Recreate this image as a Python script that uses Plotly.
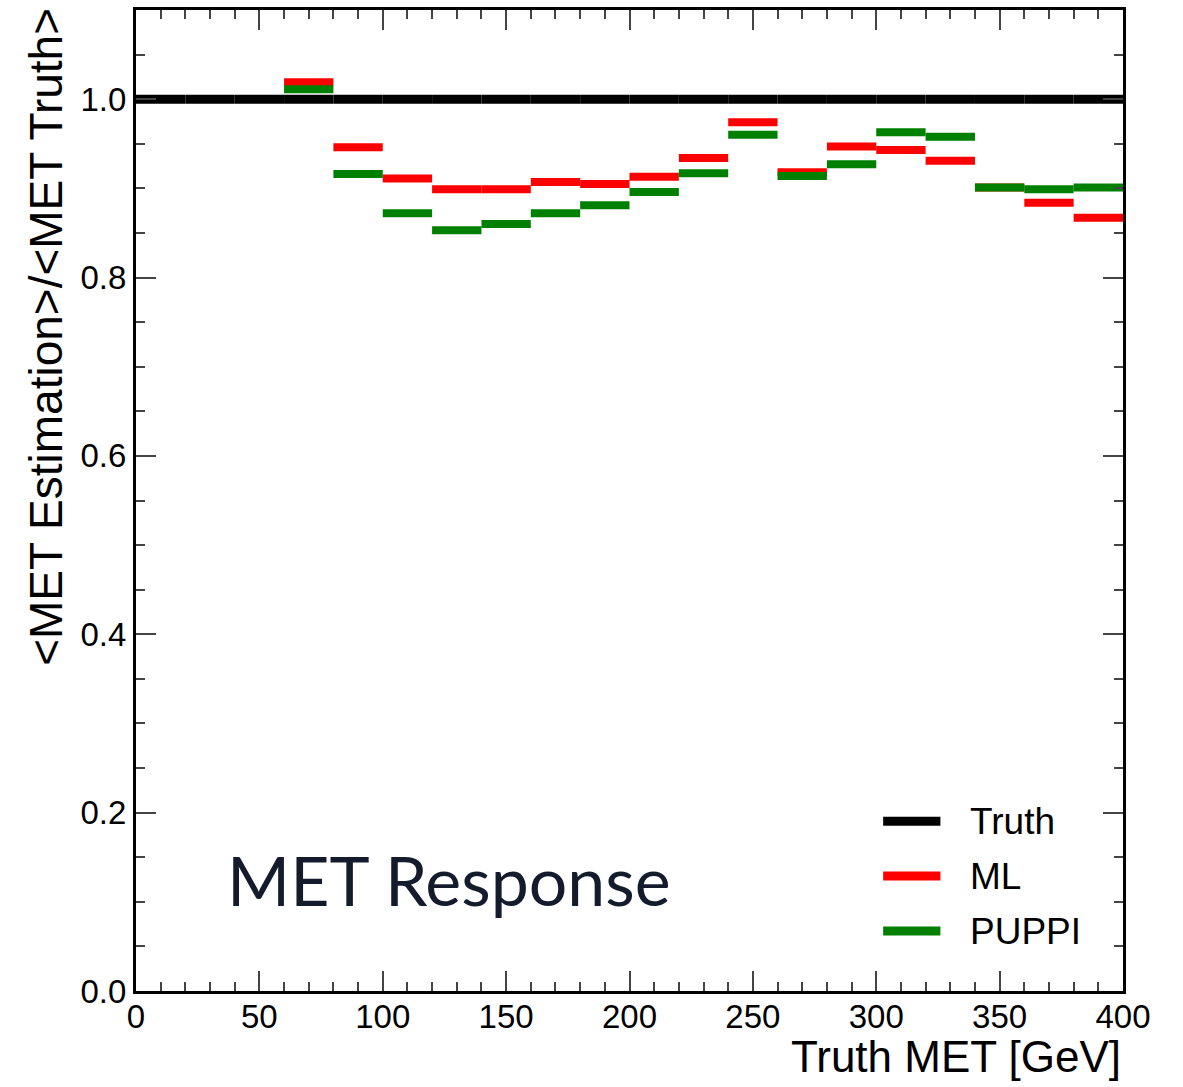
import plotly.graph_objects as go

# ---- data ----
bin_lo = [60, 80, 100, 120, 140, 160, 180, 200, 220, 240, 260, 280, 300, 320, 340, 360, 380]
bin_width = 20
ml = [1.019, 0.946, 0.911, 0.899, 0.899, 0.907, 0.905, 0.913, 0.934, 0.974, 0.918, 0.947, 0.943, 0.931, 0.901, 0.884, 0.867]
puppi = [1.011, 0.916, 0.872, 0.853, 0.860, 0.872, 0.881, 0.896, 0.917, 0.960, 0.914, 0.927, 0.963, 0.958, 0.901, 0.899, 0.901]
truth_lo = list(range(0, 400, 20))
truth = [1.0] * len(truth_lo)

x_ticks = [0, 50, 100, 150, 200, 250, 300, 350, 400]
y_ticks = [0.0, 0.2, 0.4, 0.6, 0.8, 1.0]
y_tick_text = ["0.0", "0.2", "0.4", "0.6", "0.8", "1.0"]


def steps(lo, vals, w):
    xs, ys = [], []
    for a, v in zip(lo, vals):
        xs += [a, a + w, None]
        ys += [v, v, None]
    return xs, ys


fig = go.Figure()
tx, ty = steps(truth_lo, truth, bin_width)
fig.add_trace(go.Scatter(x=tx, y=ty, mode="lines", name="Truth",
                         line=dict(color="black", width=9), showlegend=False))
mx, my = steps(bin_lo, ml, bin_width)
fig.add_trace(go.Scatter(x=mx, y=my, mode="lines", name="ML",
                         line=dict(color="#ff0000", width=8), showlegend=False))
px_, py_ = steps(bin_lo, puppi, bin_width)
fig.add_trace(go.Scatter(x=px_, y=py_, mode="lines", name="PUPPI",
                         line=dict(color="#008000", width=8), showlegend=False))

tickfont = dict(family="Liberation Sans, Arial, sans-serif", size=33, color="black")

fig.update_layout(
    width=1183, height=1087,
    margin=dict(l=136, r=60, t=7, b=96),
    plot_bgcolor="white", paper_bgcolor="white",
    showlegend=False,
)
fig.update_xaxes(
    range=[0, 400], tickvals=x_ticks, ticktext=[str(v) for v in x_ticks],
    ticks="inside", ticklen=20, tickwidth=2, tickcolor="#444",
    minor=dict(dtick=10, ticks="inside", ticklen=9, tickwidth=2, tickcolor="#444"),
    showline=True, linecolor="black", linewidth=3, mirror="allticks",
    showgrid=False, zeroline=False, tickfont=tickfont, ticklabelstandoff=-6,
)
fig.update_yaxes(
    range=[0, 1.1], tickvals=y_ticks, ticktext=y_tick_text,
    ticks="inside", ticklen=20, tickwidth=2, tickcolor="#444",
    minor=dict(dtick=0.05, ticks="inside", ticklen=9, tickwidth=2, tickcolor="#444"),
    showline=True, linecolor="black", linewidth=3, mirror="allticks",
    showgrid=False, zeroline=False, tickfont=tickfont,
)

annotations = [
    dict(text="Truth MET [GeV]", x=1, y=-0.067, xref="paper", yref="paper",
         xanchor="right", yanchor="middle", showarrow=False,
         font=dict(family="Liberation Sans, Arial, sans-serif", size=44, color="black")),
    dict(text="&lt;MET Estimation&gt;/&lt;MET Truth&gt;", x=-0.092, y=0.667, xref="paper", yref="paper",
         xanchor="center", yanchor="middle", textangle=-90, showarrow=False,
         font=dict(family="Liberation Sans, Arial, sans-serif", size=46, color="black")),
    dict(text="MET Response", x=0.090, y=0.114, xref="paper", yref="paper",
         xanchor="left", yanchor="middle", showarrow=False,
         font=dict(family="Lato, Open Sans, sans-serif", size=68, color="#141b2d")),
]
legend_items = [("Truth", "black", 0.1731), ("ML", "#ff0000", 0.1171), ("PUPPI", "#008000", 0.0611)]
shapes = []
for name, col, yy in legend_items:
    annotations.append(dict(text=name, x=0.843, y=yy, xref="paper", yref="paper",
                            xanchor="left", yanchor="middle", showarrow=False,
                            font=dict(family="Liberation Sans, Arial, sans-serif", size=37, color="black")))
    shapes.append(dict(type="line", xref="paper", yref="paper", x0=0.757, x1=0.815, y0=yy, y1=yy,
                       line=dict(color=col, width=9)))
fig.update_layout(annotations=annotations, shapes=shapes)

fig.write_html("out.html")
